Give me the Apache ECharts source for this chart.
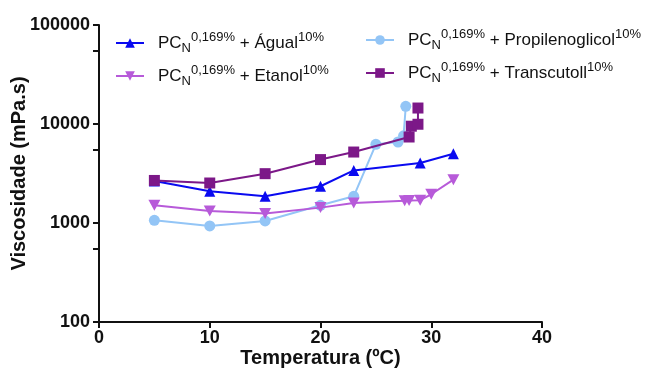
<!DOCTYPE html>
<html>
<head>
<meta charset="utf-8">
<script src="https://cdn.jsdelivr.net/npm/echarts@6/dist/echarts.min.js"></script>
<style>
  html, body { margin: 0; padding: 0; background: #fff; }
  #chart { width: 654px; height: 381px; }
</style>
</head>
<body>
<div id="chart"></div>
<script>
// temperatura (ºC) e viscosidade (mPa.s)
let aguaX = [5, 10, 15, 20, 23, 29, 32];
let aguaY = [2650, 2090, 1860, 2350, 3400, 4040, 5010];

let etanolX = [5, 10, 15, 20, 23, 27.6, 28, 29, 30, 32];
let etanolY = [1510, 1320, 1245, 1430, 1590, 1680, 1690, 1700, 1950, 2740];

let propX = [5, 10, 15, 20, 23, 25, 27, 27.5, 27.7];
let propY = [1065, 933, 1048, 1510, 1860, 6240, 6580, 7600, 15100];

let transX = [5, 10, 15, 20, 23, 28, 28.2, 28.8, 28.8];
let transY = [2690, 2535, 3150, 4370, 5210, 7390, 9500, 9940, 14500];

let xTicks = [0, 10, 20, 30, 40];
let yTicks = [100, 1000, 10000, 100000];

let nomes = ["Água", "Etanol", "Propilenoglicol", "Transcutol"];
let rotulos = {
  "Água": "Águal",
  "Etanol": "Etanol",
  "Propilenoglicol": "Propilenoglicol",
  "Transcutol": "Transcutoll",
};
let color = ["#0a0af0", "#b75ad9", "#93c5f6", "#7c1888"];
let simbolos = ["triangle", "path://M0,0 L10,0 L5,9 Z", "circle", "rect"];

let fonte = "Liberation Sans, Arial, sans-serif";

function pares(xs, ys) {
  return xs.map((x, i) => [x, ys[i]]);
}
let dados = [pares(aguaX, aguaY), pares(etanolX, etanolY), pares(propX, propY), pares(transX, transY)];

let myChart = echarts.init(document.getElementById("chart"));

let legendText = {
  fontFamily: fonte,
  fontSize: 17,
  color: "#111",
  rich: {
    g: { width: 9 },
    b: { fontSize: 17, color: "#111", fontFamily: fonte },
    sub: { fontSize: 13, color: "#111", verticalAlign: "bottom", padding: [11, 0, 0, 0], fontFamily: fonte },
    sup: { fontSize: 13, color: "#111", verticalAlign: "top", padding: [0, 0, 11, 0], fontFamily: fonte },
  },
};

function fmt(name) {
  return "{g|}{b|PC}{sub|N}{sup|0,169%}{b| + " + rotulos[name] + "}{sup|10%}";
}

let option = {
  animation: false,
  color: color,
  legend: [
    {
      data: ["Água", "Etanol"],
      orient: "vertical",
      left: 115,
      top: 31,
      padding: 0,
      itemWidth: 28,
      itemHeight: 12,
      itemGap: 9,
      formatter: fmt,
      textStyle: legendText,
    },
    {
      data: ["Propilenoglicol", "Transcutol"],
      orient: "vertical",
      left: 365,
      top: 28,
      padding: 0,
      itemWidth: 28,
      itemHeight: 12,
      itemGap: 9,
      formatter: fmt,
      textStyle: legendText,
    },
  ],
  grid: {
    left: 99,
    right: 112,
    top: 25,
    bottom: 59,
    containLabel: false,
    outerBoundsMode: "none",
  },
  xAxis: {
    type: "value",
    min: 0,
    max: 40,
    interval: 10,
    name: "Temperatura (ºC)",
    nameLocation: "middle",
    nameGap: 26,
    nameMoveOverlap: false,
    nameTextStyle: { fontSize: 20, fontWeight: "bold", color: "#111", fontFamily: fonte },
    axisLine: { lineStyle: { color: "#111", width: 2 } },
    axisTick: { length: 6, lineStyle: { color: "#111", width: 2 } },
    axisLabel: {
      fontSize: 18,
      fontWeight: "bold",
      color: "#111",
      fontFamily: fonte,
      margin: 7,
      formatter: (v) => (xTicks.indexOf(v) >= 0 ? String(v) : ""),
    },
    splitLine: { show: false },
  },
  yAxis: {
    type: "log",
    logBase: 10,
    min: 100,
    max: 100000,
    name: "Viscosidade (mPa.s)",
    nameLocation: "middle",
    nameGap: 70,
    nameMoveOverlap: false,
    nameTextStyle: { fontSize: 20, fontWeight: "bold", color: "#111", fontFamily: fonte },
    axisLine: { show: true, lineStyle: { color: "#111", width: 2 } },
    axisTick: { show: true, length: 6, lineStyle: { color: "#111", width: 2 } },
    minorTick: { show: true, splitNumber: 2, length: 6, lineStyle: { color: "#111", width: 2 } },
    axisLabel: {
      fontSize: 18,
      fontWeight: "bold",
      color: "#111",
      fontFamily: fonte,
      margin: 9,
      formatter: (v) => (yTicks.indexOf(Math.round(v)) >= 0 ? String(Math.round(v)) : ""),
    },
    splitLine: { show: false },
  },
  series: nomes.map((n, i) => ({
    name: n,
    type: "line",
    data: dados[i],
    symbol: simbolos[i],
    symbolSize: i === 1 ? [12, 11] : 11,
    lineStyle: { width: 2 },
    itemStyle: { color: color[i] },
    z: i === 2 ? 2 : 3,
  })),
};
myChart.setOption(option);
</script>
</body>
</html>
